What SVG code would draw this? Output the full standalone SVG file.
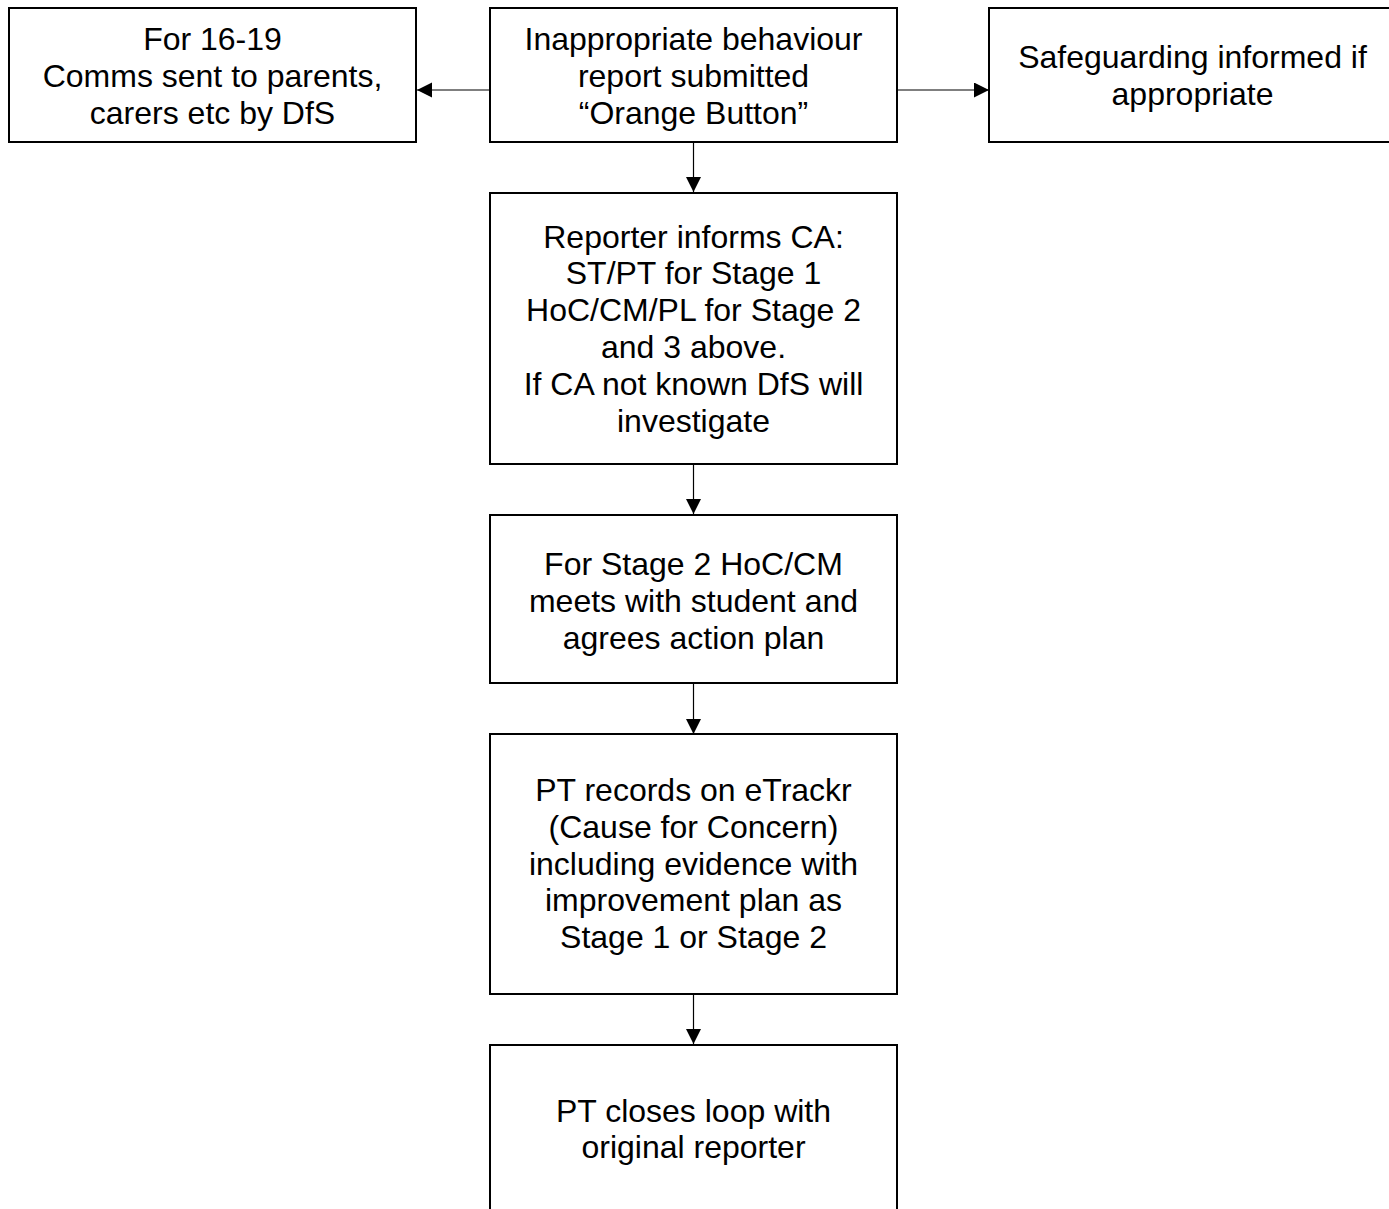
<svg xmlns="http://www.w3.org/2000/svg" width="1389" height="1209" viewBox="0 0 1389 1209">
<style>
.box{fill:#fff;stroke:#000;stroke-width:2}
.lbl{font-family:"Liberation Sans",Arial,sans-serif;font-size:32px;fill:#000;text-anchor:middle}
.conn{stroke:#000;stroke-width:1.2;fill:none}
</style>
<defs>
<marker id="arr" markerUnits="userSpaceOnUse" markerWidth="16" markerHeight="16" refX="15" refY="7.5" orient="auto">
<path d="M0,0 L15,7.5 L0,15 z" fill="#000"/>
</marker>
</defs>
<rect width="1389" height="1209" fill="#fff"/>
<g id="connectors">
<line class="conn" x1="490" y1="90" x2="417" y2="90" marker-end="url(#arr)"/>
<line class="conn" x1="897" y1="90" x2="989" y2="90" marker-end="url(#arr)"/>
<line class="conn" x1="693.5" y1="142" x2="693.5" y2="192" marker-end="url(#arr)"/>
<line class="conn" x1="693.5" y1="464" x2="693.5" y2="514" marker-end="url(#arr)"/>
<line class="conn" x1="693.5" y1="683" x2="693.5" y2="734" marker-end="url(#arr)"/>
<line class="conn" x1="693.5" y1="994" x2="693.5" y2="1044" marker-end="url(#arr)"/>
</g>
<g id="node-comms">
<rect class="box" x="9" y="8" width="407" height="134"/>
<text class="lbl"><tspan x="212.5" y="50">For 16-19</tspan><tspan x="212.5" y="86.8">Comms sent to parents,</tspan><tspan x="212.5" y="123.6">carers etc by DfS</tspan></text>
</g>
<g id="node-report">
<rect class="box" x="490" y="8" width="407" height="134"/>
<text class="lbl"><tspan x="693.5" y="50">Inappropriate behaviour</tspan><tspan x="693.5" y="86.8">report submitted</tspan><tspan x="693.5" y="123.6">“Orange Button”</tspan></text>
</g>
<g id="node-safeguarding">
<rect class="box" x="989" y="8" width="407" height="134"/>
<text class="lbl"><tspan x="1192.5" y="68">Safeguarding informed if</tspan><tspan x="1192.5" y="104.8">appropriate</tspan></text>
</g>
<g id="node-inform">
<rect class="box" x="490" y="193" width="407" height="271"/>
<text class="lbl"><tspan x="693.5" y="247.5">Reporter informs CA:</tspan><tspan x="693.5" y="284.3">ST/PT for Stage 1</tspan><tspan x="693.5" y="321.1">HoC/CM/PL for Stage 2</tspan><tspan x="693.5" y="357.9">and 3 above.</tspan><tspan x="693.5" y="394.7">If CA not known DfS will</tspan><tspan x="693.5" y="431.5">investigate</tspan></text>
</g>
<g id="node-stage2">
<rect class="box" x="490" y="515" width="407" height="168"/>
<text class="lbl"><tspan x="693.5" y="575">For Stage 2 HoC/CM</tspan><tspan x="693.5" y="611.8">meets with student and</tspan><tspan x="693.5" y="648.6">agrees action plan</tspan></text>
</g>
<g id="node-etrackr">
<rect class="box" x="490" y="734" width="407" height="260"/>
<text class="lbl"><tspan x="693.5" y="801">PT records on eTrackr</tspan><tspan x="693.5" y="837.8">(Cause for Concern)</tspan><tspan x="693.5" y="874.6">including evidence with</tspan><tspan x="693.5" y="911.4">improvement plan as</tspan><tspan x="693.5" y="948.2">Stage 1 or Stage 2</tspan></text>
</g>
<g id="node-close">
<rect class="box" x="490" y="1045" width="407" height="180"/>
<text class="lbl"><tspan x="693.5" y="1121.5">PT closes loop with</tspan><tspan x="693.5" y="1158.3">original reporter</tspan></text>
</g>
</svg>
